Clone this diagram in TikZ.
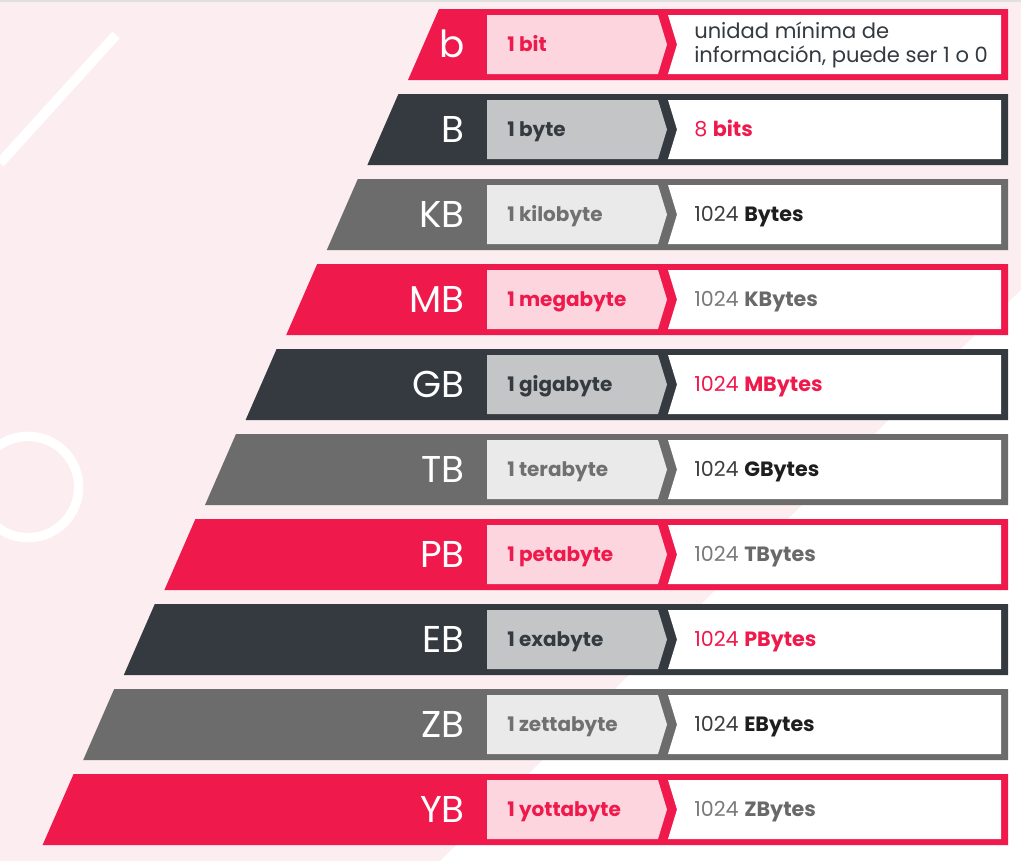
\documentclass[tikz,border=0pt]{standalone}
\usepackage{fontspec}
\setmainfont{Poppins}
\usepackage{xcolor}
\usepackage{tikz}
\usetikzlibrary{calc}
\definecolor{kbbg}{RGB}{252,237,240}
\definecolor{kbred}{RGB}{239,25,76}
\definecolor{kbdark}{RGB}{52,58,63}
\definecolor{kbgrey}{RGB}{108,108,108}
% row schemes: rd, dk, gy
\colorlet{mainrd}{kbred}
\colorlet{maindk}{kbdark}
\colorlet{maingy}{kbgrey}
\definecolor{midrd}{RGB}{252,213,222}
\definecolor{middk}{RGB}{196,197,199}
\definecolor{midgy}{RGB}{234,234,234}
\colorlet{txtrd}{kbred}
\colorlet{txtdk}{kbdark}
\definecolor{txtgy}{RGB}{112,112,112}
\definecolor{valrd}{RGB}{122,122,122}
\colorlet{valdk}{kbred}
\definecolor{valgy}{RGB}{60,62,64}
\definecolor{unitrd}{RGB}{105,105,105}
\colorlet{unitdk}{kbred}
\definecolor{unitgy}{RGB}{30,30,30}

\begin{document}
\begin{tikzpicture}[x=0.75pt, y=-0.75pt,
  lbltext/.style={anchor=base east, inner sep=0pt, text=white,
    font=\fontsize{28}{28}\selectfont},
  midtext/.style={anchor=base west, inner sep=0pt,
    font=\fontsize{15}{15}\selectfont\bfseries},
  valtext/.style={anchor=base west, inner sep=0pt,
    font=\fontsize{15.5}{15.5}\selectfont}]
\useasboundingbox (0,0) rectangle (1021,861);

% background
\fill[kbbg] (0,0) rectangle (1021,861);
\fill[white] (1021,290) -- (1021,861) -- (440,861) -- cycle;
\draw[black!12, line width=1.5pt] (0,1) -- (1021,1);

% decorations
\draw[white, line width=7.5pt] (0,163) -- (116,35);
\draw[white, line width=7pt] (28,487) circle (38pt);

% ---- rows ----
\foreach \i/\lbl/\mtext/\val/\unt/\sch in {
    0/b/1 bit/{}/{}/rd,
    1/B/1 byte/8/bits/dk,
    2/KB/1 kilobyte/1024/Bytes/gy,
    3/MB/1 megabyte/1024/KBytes/rd,
    4/GB/1 gigabyte/1024/MBytes/dk,
    5/TB/1 terabyte/1024/GBytes/gy,
    6/PB/1 petabyte/1024/TBytes/rd,
    7/EB/1 exabyte/1024/PBytes/dk,
    8/ZB/1 zettabyte/1024/EBytes/gy,
    9/YB/1 yottabyte/1024/ZBytes/rd}{
  \pgfmathsetmacro{\yt}{9+85*\i}
  \pgfmathsetmacro{\yb}{\yt+71}
  \pgfmathsetmacro{\ym}{\yt+35.5}
  \pgfmathsetmacro{\xl}{408-40.6*\i}
  % band
  \fill[main\sch] (\xl,\yb) -- (\xl+31,\yt) -- (1008,\yt) -- (1008,\yb) -- cycle;
  % chevron
  \fill[mid\sch] (487,\yt+6) -- (658,\yt+6) -- (667,\ym) -- (658,\yb-6)
    -- (487,\yb-6) -- cycle;
  % white box
  \fill[white] (668,\yt+6) -- (1001,\yt+6) -- (1001,\yb-6) -- (668,\yb-6)
    -- (677,\ym) -- cycle;
  \node[lbltext] (lbl\i) at (465,\ym+13) {\lbl};
  \node[midtext, text=txt\sch] (mid\i) at (507,\ym+6.5) {\mtext};
  \ifnum\i>0
    \node[valtext, text=val\sch] (val\i) at (694,\ym+6.5)
      {\val\ \textbf{\textcolor{unit\sch}{\unt}}};
  \fi
}

% first row text
\node[anchor=west, align=left, inner sep=0pt, text=kbdark,
  font=\fontsize{15.8}{17.5}\selectfont] (val0) at (694,45)
  {unidad mínima de\\información, puede ser 1 o 0};
\end{tikzpicture}
\end{document}
